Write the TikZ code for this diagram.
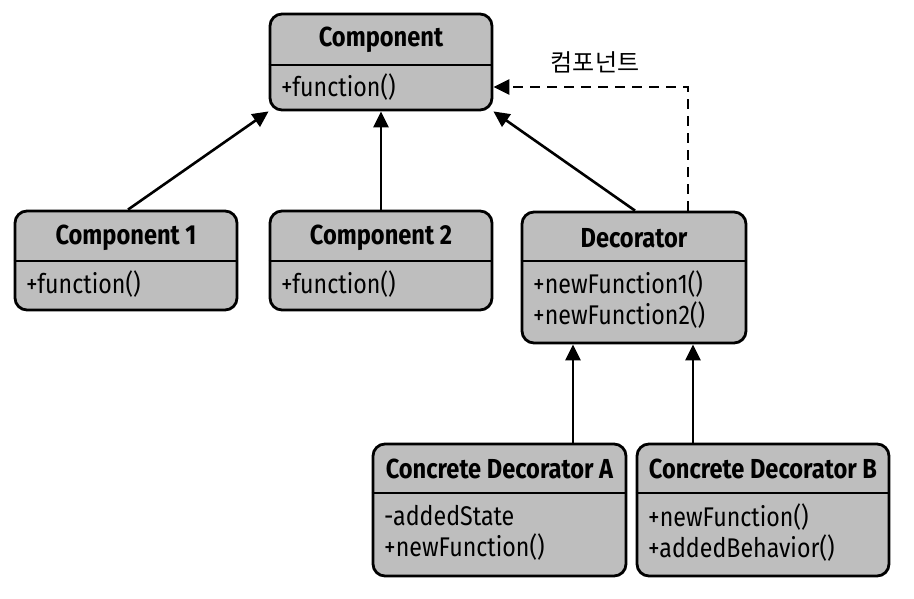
\documentclass[tikz,border=0pt]{standalone}
\usepackage{fontspec}
\setmainfont{Fira Sans}[FakeStretch=0.86]
\newfontfamily\cjk{Noto Sans CJK KR}
\usetikzlibrary{arrows.meta}
\definecolor{boxgray}{HTML}{BEBEBE}
\tikzset{
  umlbox/.style={draw=black, line width=2.8pt, fill=boxgray, rounded corners=12pt, inner sep=0pt},
  title/.style={font=\fontsize{27.5}{30}\selectfont\bfseries, inner sep=0pt, anchor=center},
  body/.style={font=\fontsize{27}{31}\selectfont, inner sep=0pt, anchor=west, align=left},
  divider/.style={line width=2.8pt},
  conn/.style={line width=2.6pt, -{Triangle[length=16pt,width=15pt]}},
  dconn/.style={conn, dash pattern=on 10pt off 7pt},
}
\begin{document}
\begin{tikzpicture}[x=1pt,y=-1pt]
\useasboundingbox (0,0) rectangle (914,598);
% boxes
\node[umlbox, minimum width=222pt, minimum height=96pt] (comp) at (381,62) {};
\node[umlbox, minimum width=222pt, minimum height=99pt] (c1) at (126,260.5) {};
\node[umlbox, minimum width=222pt, minimum height=99pt] (c2) at (381,260.5) {};
\node[umlbox, minimum width=224pt, minimum height=131pt] (dec) at (634,277.5) {};
\node[umlbox, minimum width=253pt, minimum height=132pt] (cda) at (499.5,510) {};
\node[umlbox, minimum width=252pt, minimum height=132pt] (cdb) at (763,510) {};
% dividers
\draw[divider] (comp.west |- 0,65) -- (comp.east |- 0,65);
\draw[divider] (c1.west |- 0,261) -- (c1.east |- 0,261);
\draw[divider] (c2.west |- 0,261) -- (c2.east |- 0,261);
\draw[divider] (dec.west |- 0,261) -- (dec.east |- 0,261);
\draw[divider] (cda.west |- 0,493) -- (cda.east |- 0,493);
\draw[divider] (cdb.west |- 0,493) -- (cdb.east |- 0,493);
% titles
\node[title] (tcomp) at (381,40) {Component};
\node[title] (tc1) at (126,238) {Component 1};
\node[title] (tc2) at (381,238) {Component 2};
\node[title] (tdec) at (634,238) {Decorator};
\node[title] (tcda) at (499.5,469) {Concrete Decorator A};
\node[title] (tcdb) at (763,469) {Concrete Decorator B};
% bodies
\node[body] (bcomp) at (281,87) {+function()};
\node[body] (bc1) at (26,284) {+function()};
\node[body] (bc2) at (281,284) {+function()};
\node[body] (bdec) at (533,300) {+newFunction1()\\+newFunction2()};
\node[body] (bcda) at (384,533) {-addedState\\+newFunction()};
\node[body] (bcdb) at (648,533) {+newFunction()\\+addedBehavior()};
% connectors
\draw[conn] (c1.north -| 128,0) -- (comp.south west);
\draw[conn] (c2.north) -- (comp.south);
\draw[conn] (dec.north -| 635,0) -- (comp.south east);
\coordinate (bend) at (688,87);
\draw[dconn] (dec.north -| bend) -- (bend) -- (comp.east |- bend);
\node[font=\cjk\fontsize{24}{26}\selectfont, inner sep=0pt] (lbl) at (595,62) {컴포넌트};
\draw[conn] (cda.north -| 573,0) -- (dec.south -| 573,0);
\draw[conn] (cdb.north -| 693,0) -- (dec.south -| 693,0);
\end{tikzpicture}
\end{document}
